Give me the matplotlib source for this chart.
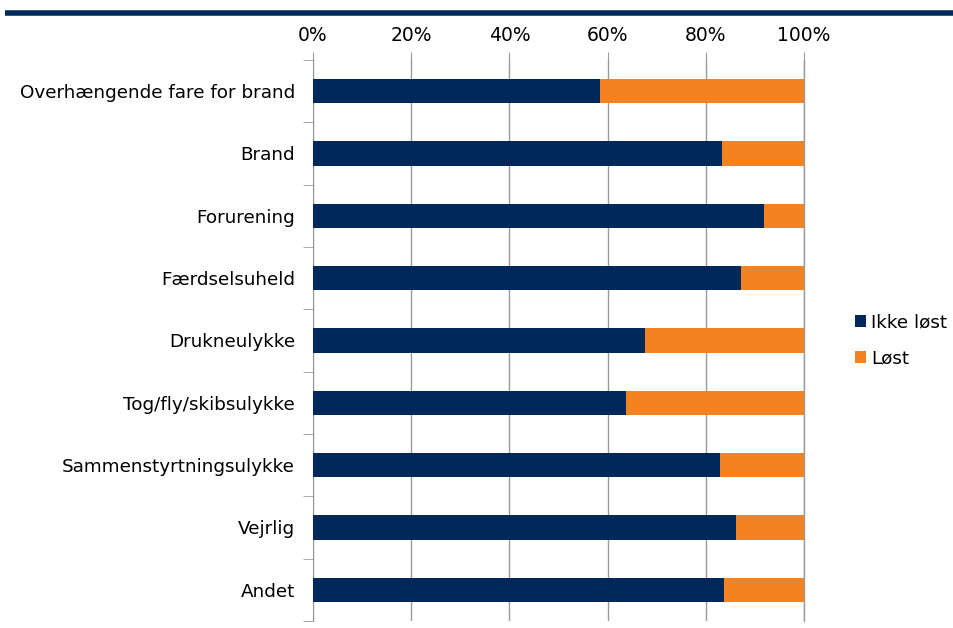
import matplotlib.pyplot as plt
from matplotlib.ticker import PercentFormatter, FixedLocator
from matplotlib.lines import Line2D

categories = ["Overhængende fare for brand", "Brand", "Forurening", "Færdselsuheld",
              "Drukneulykke", "Tog/fly/skibsulykke", "Sammenstyrtningsulykke",
              "Vejrlig", "Andet"]
ikke_loest = [58.4, 83.4, 91.8, 87.2, 67.6, 63.7, 82.9, 86.2, 83.8]
loest = [100 - v for v in ikke_loest]
series_names = ["Ikke løst", "Løst"]

navy = "#00285A"
orange = "#F58220"
grid_c = "#9a9a9a"

plt.rcParams['font.family'] = ['DejaVu Sans']

fig = plt.figure(figsize=(9.54, 6.28), dpi=100)
ax = fig.add_axes([313 / 954, 1 - 621 / 628, 491 / 954, 561 / 628])

y = list(range(len(categories)))
ax.barh(y, ikke_loest, height=0.39, color=navy, label=series_names[0], zorder=3)
ax.barh(y, loest, left=ikke_loest, height=0.39, color=orange, label=series_names[1], zorder=3)

ax.set_xlim(0, 100)
ax.set_ylim(len(categories) - 0.5, -0.5)
ax.xaxis.set_major_formatter(PercentFormatter(decimals=0))
ax.set_xticks([0, 20, 40, 60, 80, 100])
ax.xaxis.tick_top()
ax.tick_params(axis='x', which='major', length=6, color=grid_c, labelsize=13.5, pad=5)
ax.grid(axis='x', color=grid_c, linewidth=1, zorder=0)
# the 100% gridline shows at the bars' right edge
ax.axvline(100, color=grid_c, linewidth=1, zorder=4, clip_on=False)

ax.set_yticks(y)
ax.set_yticklabels(categories)
ax.tick_params(axis='y', which='major', length=0, labelsize=13.2, pad=13)
ax.yaxis.set_minor_locator(FixedLocator([i + 0.5 for i in range(-1, len(categories))]))
ax.tick_params(axis='y', which='minor', length=7, color=grid_c)

for s in ['top', 'right', 'bottom']:
    ax.spines[s].set_visible(False)
ax.spines['left'].set_color(grid_c)

ax.legend(loc='center left', bbox_to_anchor=(1.07, 0.5), frameon=False,
          fontsize=13.2, handlelength=0.6, handleheight=0.6, handletextpad=0.3,
          labelspacing=1.0)

# dark rule across the top
fig.add_artist(Line2D([5 / 954, 1], [1 - 13 / 628, 1 - 13 / 628], color=navy,
                      linewidth=4, solid_capstyle='butt'))

fig.savefig("out.png", dpi=100)
